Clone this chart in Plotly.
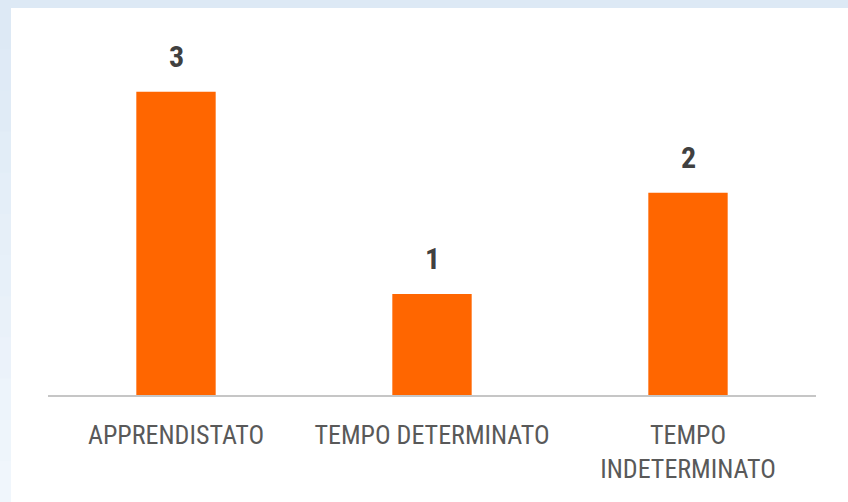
import plotly.graph_objects as go

categories = ["APPRENDISTATO", "TEMPO DETERMINATO", "TEMPO<br>INDETERMINATO"]
values = [3, 1, 2]

W, H = 848, 502
L, R, T, B = 48, 32, 31, 107
pw, ph = W - L - R, H - T - B

FONT = "Roboto Condensed, DejaVu Sans Condensed, Liberation Sans Narrow, Arial Narrow, Liberation Sans, sans-serif"

def px_x(x):
    return (x - L) / pw

def px_y(y):
    return (H - B - y) / ph

fig = go.Figure()
fig.add_trace(go.Bar(
    x=categories, y=values,
    marker=dict(color="#ff6600", line=dict(width=0)),
    width=0.31, hoverinfo="skip",
))

shapes = [dict(type="rect", xref="paper", yref="paper", layer="below",
               x0=px_x(11), x1=px_x(849), y0=px_y(503), y1=px_y(8),
               fillcolor="white", line=dict(width=0))]
# left strip gradient bands
n = 12
top_c = (221, 233, 245)
bot_c = (240, 246, 252)
for i in range(n):
    t = i / (n - 1)
    c = tuple(round(top_c[k] + (bot_c[k] - top_c[k]) * t) for k in range(3))
    y0 = 8 + (502 - 8) * i / n
    y1 = 8 + (502 - 8) * (i + 1) / n
    shapes.append(dict(type="rect", xref="paper", yref="paper", layer="below",
                       x0=px_x(-1), x1=px_x(11), y0=px_y(y1 + 1), y1=px_y(y0),
                       fillcolor="rgb(%d,%d,%d)" % c, line=dict(width=0)))

annotations = [dict(x=c, y=v, xref="x", yref="y", text="<b>%d</b>" % v,
                    showarrow=False, yanchor="bottom", yshift=16,
                    font=dict(family=FONT, size=30, color="#404040"))
               for c, v in zip(categories, values)]

fig.update_layout(
    width=W, height=H,
    margin=dict(l=L, r=R, t=T, b=B),
    paper_bgcolor="#dde9f5",
    plot_bgcolor="rgba(0,0,0,0)",
    showlegend=False,
    shapes=shapes,
    annotations=annotations,
    xaxis=dict(showline=True, linecolor="#c6c6c6", linewidth=2,
               ticks="outside", ticklen=16, tickcolor="rgba(0,0,0,0)",
               tickfont=dict(family=FONT, size=26, color="#595959"),
               showgrid=False, fixedrange=True),
    yaxis=dict(range=[0, 3.6], visible=False, showgrid=False, zeroline=False,
               fixedrange=True),
)

fig.write_html("out.html", config={"displayModeBar": False},
               post_script="document.body.style.margin='0';document.body.style.overflow='hidden';")
